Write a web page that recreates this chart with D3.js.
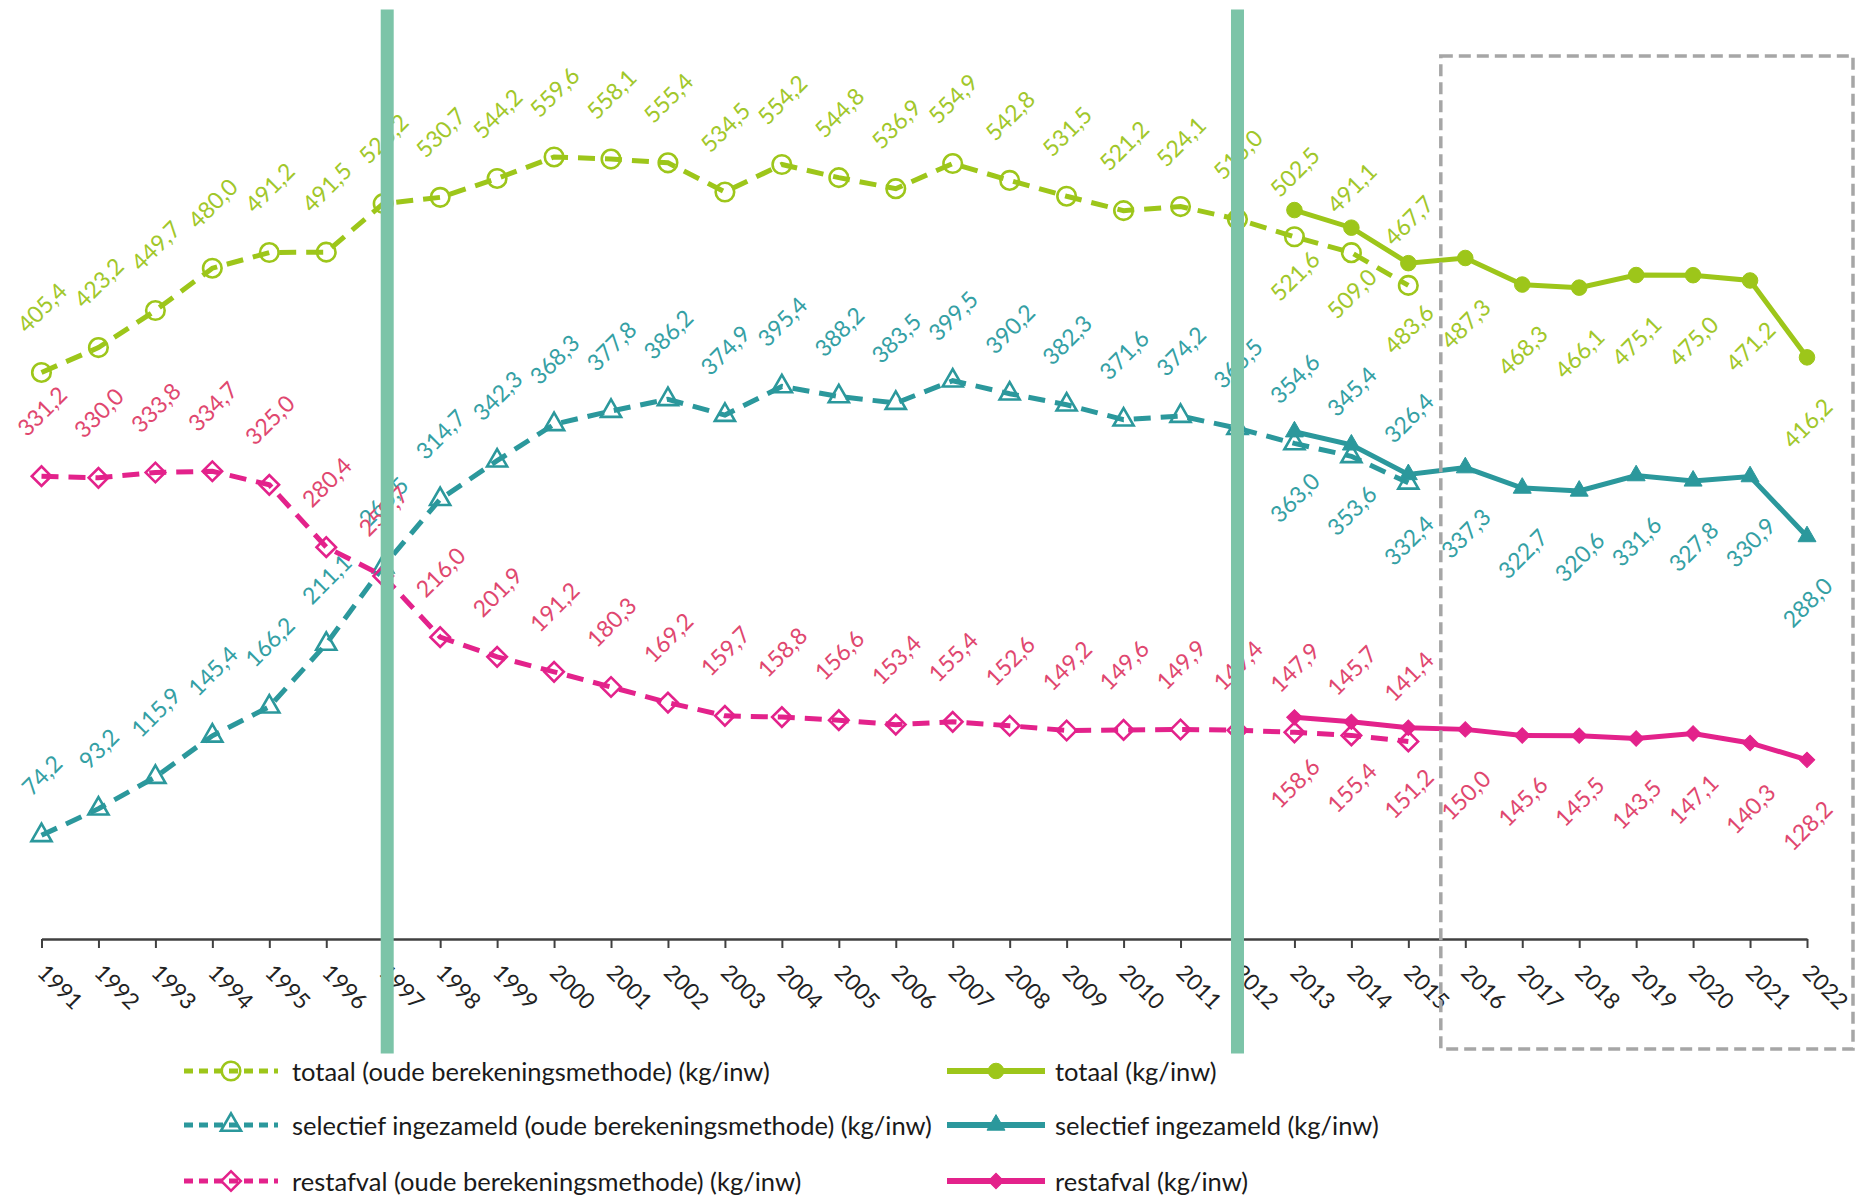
<!DOCTYPE html>
<html>
<head>
<meta charset="utf-8">
<script src="https://cdn.jsdelivr.net/npm/d3@7"></script>
<style>
  body { margin: 0; background: #fff; }
  svg { display: block; font-family: Lato, "Open Sans", sans-serif; }
</style>
</head>
<body>
<script>
// Afval per inwoner 1991-2022 (kg/inw)

const years = ["1991","1992","1993","1994","1995","1996","1997","1998","1999","2000",
               "2001","2002","2003","2004","2005","2006","2007","2008","2009","2010",
               "2011","2012","2013","2014","2015","2016","2017","2018","2019","2020",
               "2021","2022"];

// oude berekeningsmethode: 1991-2015
const totaalOud = [405.4, 423.2, 449.7, 480.0, 491.2, 491.5, 526.2, 530.7, 544.2, 559.6,
                   558.1, 555.4, 534.5, 554.2, 544.8, 536.9, 554.9, 542.8, 531.5, 521.2,
                   524.1, 515.0, 502.5, 491.1, 467.7];
const selectiefOud = [74.2, 93.2, 115.9, 145.4, 166.2, 211.1, 266.5, 314.7, 342.3, 368.3,
                      377.8, 386.2, 374.9, 395.4, 388.2, 383.5, 399.5, 390.2, 382.3, 371.6,
                      374.2, 365.5, 354.6, 345.4, 326.4];
const restafvalOud = [331.2, 330.0, 333.8, 334.7, 325.0, 280.4, 259.7, 216.0, 201.9, 191.2,
                      180.3, 169.2, 159.7, 158.8, 156.6, 153.4, 155.4, 152.6, 149.2, 149.6,
                      149.9, 149.4, 147.9, 145.7, 141.4];

// nieuwe berekeningsmethode: 2013-2022
const totaalNieuw = [521.6, 509.0, 483.6, 487.3, 468.3, 466.1, 475.1, 475.0, 471.2, 416.2];
const selectiefNieuw = [363.0, 353.6, 332.4, 337.3, 322.7, 320.6, 331.6, 327.8, 330.9, 288.0];
const restafvalNieuw = [158.6, 155.4, 151.2, 150.0, 145.6, 145.5, 143.5, 147.1, 140.3, 128.2];

const legendLabels = [
  "totaal (oude berekeningsmethode) (kg/inw)",
  "totaal (kg/inw)",
  "selectief ingezameld (oude berekeningsmethode) (kg/inw)",
  "selectief ingezameld (kg/inw)",
  "restafval (oude berekeningsmethode) (kg/inw)",
  "restafval (kg/inw)"
];

const width = 1857, height = 1197;

const groen = "#9dc61a", teal = "#2b989c", magenta = "#e3228b";
const groenTekst = "#a1c72a", tealTekst = "#34a0a4", roodTekst = "#e0476f";

const x = d3.scalePoint().domain(years).range([41.5, 1807]);
const y = d3.scaleLinear().domain([0, 600]).range([939, 100.5]);

const svg = d3.select("body").append("svg")
  .attr("width", width)
  .attr("height", height);

const oudeJaren = years.slice(0, totaalOud.length);
const nieuweJaren = years.slice(years.length - totaalNieuw.length);

const series = [
  {jaren: oudeJaren, waarden: totaalOud, kleur: groen, tekst: groenTekst, symbool: "circle", oud: true},
  {jaren: oudeJaren, waarden: selectiefOud, kleur: teal, tekst: tealTekst, symbool: "triangle", oud: true},
  {jaren: oudeJaren, waarden: restafvalOud, kleur: magenta, tekst: roodTekst, symbool: "diamond", oud: true},
  {jaren: nieuweJaren, waarden: totaalNieuw, kleur: groen, tekst: groenTekst, symbool: "circle", oud: false},
  {jaren: nieuweJaren, waarden: selectiefNieuw, kleur: teal, tekst: tealTekst, symbool: "triangle", oud: false},
  {jaren: nieuweJaren, waarden: restafvalNieuw, kleur: magenta, tekst: roodTekst, symbool: "diamond", oud: false}
];

function symbolPath(type, oud) {
  if (type === "circle") return d3.symbol(d3.symbolCircle, oud ? 270 : 190)();
  if (type === "triangle") return d3.symbol(d3.symbolTriangle, oud ? 175 : 140)();
  return d3.symbol(d3.symbolSquare, oud ? 190 : 120)();
}

function drawMarker(g, s) {
  g.append("path")
    .attr("d", symbolPath(s.symbool, s.oud))
    .attr("transform", s.symbool === "diamond" ? "rotate(45)" : null)
    .attr("fill", s.oud ? "none" : s.kleur)
    .attr("stroke", s.kleur)
    .attr("stroke-width", s.oud ? 2.6 : 1);
}

const fmt = d3.format(".1f");
const label = v => fmt(v).replace(".", ",");

// axis
const axis = svg.append("g")
  .attr("transform", `translate(0,${y(0)})`)
  .call(d3.axisBottom(x).tickSize(9).tickSizeOuter(0));
axis.select(".domain").attr("stroke", "#404040").attr("stroke-width", 2.5);
axis.selectAll(".tick line").attr("stroke", "#404040").attr("stroke-width", 2);
axis.selectAll(".tick text")
  .attr("x", 0).attr("y", 0).attr("dy", 0)
  .attr("text-anchor", "start")
  .attr("transform", "translate(-6,35) rotate(45)")
  .attr("fill", "#222")
  .style("font-size", "22.5px")
  .style("font-family", "Lato, sans-serif");

// lines, markers, labels
const line = d3.line().x(d => x(d.jaar)).y(d => y(d.waarde));

series.forEach(s => {
  const pts = s.jaren.map((jaar, i) => ({jaar, waarde: s.waarden[i]}));

  svg.append("path")
    .datum(pts)
    .attr("d", line)
    .attr("fill", "none")
    .attr("stroke", s.kleur)
    .attr("stroke-width", 5)
    .attr("stroke-dasharray", s.oud ? "17,10" : null);

  svg.selectAll(null)
    .data(pts)
    .enter()
    .append("g")
    .attr("transform", d => `translate(${x(d.jaar)},${y(d.waarde)})`)
    .each(function() { drawMarker(d3.select(this), s); });

  svg.selectAll(null)
    .data(pts)
    .enter()
    .append("text")
    .text(d => label(d.waarde))
    .attr("fill", s.tekst)
    .attr("text-anchor", "middle")
    .attr("dominant-baseline", "central")
    .style("font-size", "23px")
    .each(function(d) {
      const w = this.getComputedTextLength();
      const off = 39 + (w + 16) / (2 * Math.SQRT2);
      const cy = y(d.waarde) + (s.oud ? -off : off);
      d3.select(this).attr("transform", `translate(${x(d.jaar)},${cy}) rotate(-45)`);
    });
});

// markering oude/nieuwe methode
const boxLeft = (x("2015") + x("2016")) / 2 + 4;
svg.append("rect")
  .attr("x", boxLeft)
  .attr("y", 56)
  .attr("width", x("2022") + 46 - boxLeft)
  .attr("height", 993)
  .attr("fill", "none")
  .attr("stroke", "#a6a6a6")
  .attr("stroke-width", 3.5)
  .attr("stroke-dasharray", "12,6");

[x("1997") + 4, x("2012")].forEach(bx => {
  svg.append("rect")
    .attr("x", bx - 6.5)
    .attr("y", 9.5)
    .attr("width", 13)
    .attr("height", 1044)
    .attr("fill", "#7cc4a8");
});

// legend
const legendRows = [1071, 1125, 1181];
const legendCols = [{x0: 184, x1: 278, tx: 292}, {x0: 947, x1: 1045, tx: 1055}];
const legendSeries = [series[0], series[3], series[1], series[4], series[2], series[5]];

legendSeries.forEach((s, i) => {
  const col = legendCols[i % 2];
  const ly = legendRows[Math.floor(i / 2)];
  const g = svg.append("g");
  g.append("line")
    .attr("x1", col.x0).attr("x2", col.x1)
    .attr("y1", ly).attr("y2", ly)
    .attr("stroke", s.kleur)
    .attr("stroke-width", s.oud ? 5 : 6)
    .attr("stroke-dasharray", s.oud ? "9,6" : null);
  const m = g.append("g").attr("transform", `translate(${(col.x0 + col.x1) / 2},${ly})`);
  drawMarker(m, s);
  g.append("text")
    .attr("x", col.tx)
    .attr("y", ly)
    .attr("dominant-baseline", "central")
    .attr("fill", "#1a1a1a")
    .style("font-size", "25.5px")
    .text(legendLabels[i]);
});
</script>
</body>
</html>
